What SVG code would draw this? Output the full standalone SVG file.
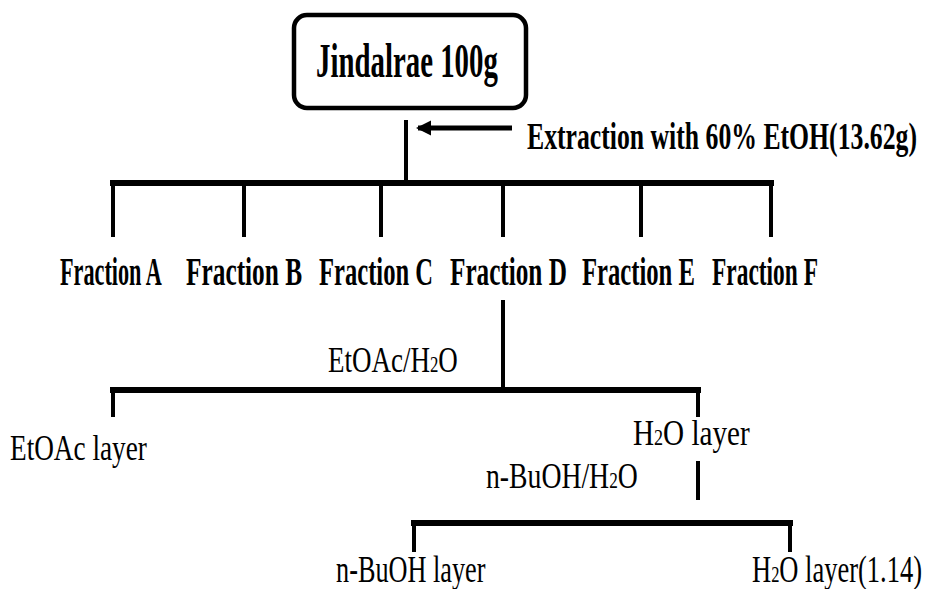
<svg xmlns="http://www.w3.org/2000/svg" width="925" height="589" viewBox="0 0 925 589">
  <style>
    .bar { stroke: #000; stroke-width: 6; fill: none; stroke-linecap: square; }
    .drop { stroke: #000; stroke-width: 4; fill: none; }
    .box { fill: #fff; stroke: #000; stroke-width: 4.5; }
    .b { font-family: "Liberation Serif", "Times New Roman", serif; font-weight: bold; fill: #000; }
    .r { font-family: "Liberation Serif", "Times New Roman", serif; fill: #000; }
    .sub { font-size: 62%; }
    .frac { font-size: 41px; }
  </style>
  <defs>
    <!-- filled head, tip pointing along the line direction -->
    <marker id="head" markerWidth="4" markerHeight="4" refX="2.6" refY="2" orient="auto" markerUnits="strokeWidth">
      <path d="M3,2 L0,0.5 L0,3.5 Z" fill="#000"/>
    </marker>
  </defs>
  <rect width="925" height="589" fill="#fff"/>

  <!-- connectors -->
  <g id="connectors">
    <!-- extraction step -->
    <line class="drop" x1="406" y1="120" x2="406" y2="183"/>
    <line x1="512" y1="128" x2="418" y2="128" stroke="#000" stroke-width="5" marker-end="url(#head)"/>
    <!-- fraction split -->
    <line class="bar" x1="113" y1="183" x2="771" y2="183"/>
    <line class="drop" x1="113" y1="183" x2="113" y2="237"/>
    <line class="drop" x1="244" y1="183" x2="244" y2="237"/>
    <line class="drop" x1="381" y1="183" x2="381" y2="237"/>
    <line class="drop" x1="503" y1="183" x2="503" y2="237"/>
    <line class="drop" x1="641" y1="183" x2="641" y2="237"/>
    <line class="drop" x1="771" y1="183" x2="771" y2="237"/>
    <!-- EtOAc / H2O partition -->
    <line class="drop" x1="503" y1="300" x2="503" y2="390"/>
    <line class="bar" x1="113" y1="390" x2="698" y2="390"/>
    <line class="drop" x1="113" y1="390" x2="113" y2="417"/>
    <line class="drop" x1="698" y1="390" x2="698" y2="417"/>
    <!-- n-BuOH / H2O partition -->
    <line class="drop" x1="698" y1="461" x2="698" y2="500"/>
    <line class="bar" x1="414" y1="523" x2="790" y2="523"/>
    <line class="drop" x1="414" y1="523" x2="414" y2="552"/>
    <line class="drop" x1="790" y1="523" x2="790" y2="552"/>
  </g>

  <!-- texts are set in a narrow face: horizontal scale on each label -->
  <g id="start">
    <rect class="box" x="294" y="15" width="232" height="93" rx="13"/>
    <text class="b" font-size="48" transform="translate(316 77) scale(0.601 1)">Jindalrae 100g</text>
  </g>

  <g id="extraction">
    <text class="b" font-size="37" transform="translate(527 149) scale(0.695 1)">Extraction with 60% EtOH(13.62g)</text>
  </g>

  <g id="fractionA"><text class="b frac" transform="translate(60 285) scale(0.542 1)">Fraction A</text></g>
  <g id="fractionB"><text class="b frac" transform="translate(186 285) scale(0.618 1)">Fraction B</text></g>
  <g id="fractionC"><text class="b frac" transform="translate(319 285) scale(0.600 1)">Fraction C</text></g>
  <g id="fractionD"><text class="b frac" transform="translate(450 285) scale(0.615 1)">Fraction D</text></g>
  <g id="fractionE"><text class="b frac" transform="translate(582 285) scale(0.601 1)">Fraction E</text></g>
  <g id="fractionF"><text class="b frac" transform="translate(712 285) scale(0.571 1)">Fraction F</text></g>

  <g id="solvent1">
    <text class="r" font-size="36" transform="translate(328 372) scale(0.75 1)">EtOAc/H<tspan class="sub">2</tspan>O</text>
  </g>

  <g id="etoacLayer">
    <text class="r" font-size="36" transform="translate(10 460) scale(0.757 1)">EtOAc layer</text>
  </g>

  <g id="waterLayer">
    <text class="r" font-size="36" transform="translate(633 445) scale(0.81 1)">H<tspan class="sub">2</tspan>O layer</text>
  </g>

  <g id="solvent2">
    <text class="r" font-size="36" transform="translate(486 488) scale(0.77 1)">n-BuOH/H<tspan class="sub">2</tspan>O</text>
  </g>

  <g id="butanolLayer">
    <text class="r" font-size="37" transform="translate(336 582) scale(0.71 1)">n-BuOH layer</text>
  </g>

  <g id="waterLayer2">
    <text class="r" font-size="37" transform="translate(752 582) scale(0.716 1)">H<tspan class="sub">2</tspan>O layer(1.14)</text>
  </g>
</svg>
